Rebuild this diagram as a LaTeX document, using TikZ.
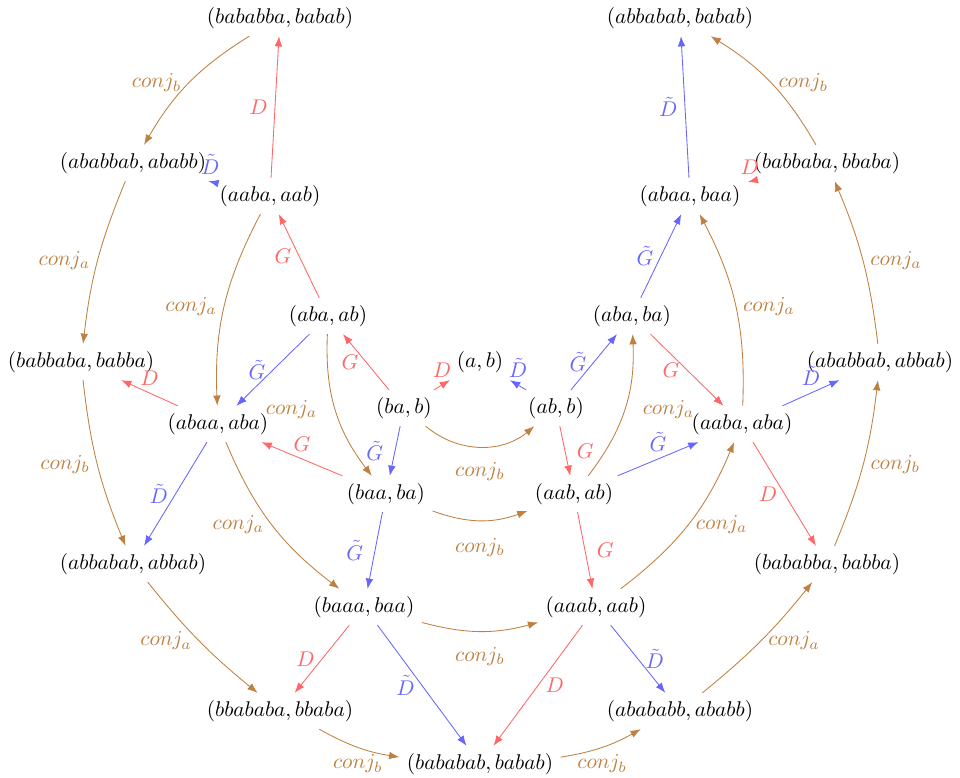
\documentclass[tikz,border=0pt]{standalone}
\usepackage{amsmath}
\usetikzlibrary{arrows.meta}

\tikzset{
  redarr/.style={-{Latex}, red!60},
  bluearr/.style={-{Latex}, blue!60},
  conjarr/.style={-{Latex}, brown},
}

\begin{document}
\begin{tikzpicture}[x=0.99cm,y=0.99cm]
  \useasboundingbox (-8,6.033) rectangle (8,-6.933);

  \node (ab)           at (0,0)           {$(a,b)$};
  \node (bab)          at (-1.267,-0.767) {$(ba,b)$};
  \node (abb)          at (1.267,-0.767)  {$(ab,b)$};
  \node (abaab)        at (-2.533,0.767)  {$(aba,ab)$};
  \node (ababa)        at (2.533,0.767)   {$(aba,ba)$};
  \node (baaba)        at (-1.567,-2.2)   {$(baa,ba)$};
  \node (aabab)        at (1.567,-2.2)    {$(aab,ab)$};
  \node (aabaaab)      at (-3.5,2.767)    {$(aaba,aab)$};
  \node (abaabaa)      at (3.5,2.767)     {$(abaa,baa)$};
  \node (abaaaba)      at (-4.367,-1.033) {$(abaa,aba)$};
  \node (aabaaba)      at (4.367,-1.033)  {$(aaba,aba)$};
  \node (baaabaa)      at (-1.933,-4.083) {$(baaa,baa)$};
  \node (aaabaab)      at (1.933,-4.083)  {$(aaab,aab)$};
  \node (bababbababab) at (-3.333,5.733)  {$(bababba,babab)$};
  \node (abbababbabab) at (3.333,5.733)   {$(abbabab,babab)$};
  \node (ababbabababb) at (-5.783,3.317)  {$(ababbab,ababb)$};
  \node (babbababbaba) at (5.783,3.317)   {$(babbaba,bbaba)$};
  \node (babbabababba) at (-6.65,0)       {$(babbaba,babba)$};
  \node (ababbababbab) at (6.667,0)       {$(ababbab,abbab)$};
  \node (abbabababbab) at (-5.783,-3.367) {$(abbabab,abbab)$};
  \node (bababbababba) at (5.783,-3.367)  {$(bababba,babba)$};
  \node (bbabababbaba) at (-3.333,-5.817) {$(bbababa,bbaba)$};
  \node (abababbababb) at (3.333,-5.817)  {$(abababb,ababb)$};
  \node (babababbabab) at (0,-6.7)        {$(bababab,babab)$};

  % G and D
  \draw[redarr] (bab) -- (ab) node[midway,above] {$D$};
  \draw[redarr] (bab) -- (abaab) node[midway,left] {$G$};
  \draw[redarr] (abaab) -- (aabaaab) node[midway,left] {$G$};
  \draw[redarr] (aabaaab) -- (bababbababab) node[midway,left] {$D$};
  \draw[redarr] (baaba) -- (abaaaba) node[midway,above] {$G$};
  \draw[redarr] (abaaaba) -- (babbabababba) node[midway,above] {$D$};
  \draw[redarr] (abb) -- (aabab) node[midway,right=2pt] {$G$};
  \draw[redarr] (aabab) -- (aaabaab) node[midway,right=2pt] {$G$};
  \draw[redarr] (ababa) -- (aabaaba) node[midway,left] {$G$};
  \draw[redarr] (aabaaba) -- (bababbababba) node[midway,left] {$D$};
  \draw[redarr] (babbababbaba) -- (abaabaa) node[midway,above] {$D$};
  \draw[redarr] (baaabaa) -- (bbabababbaba) node[midway,left] {$D$};
  \draw[redarr] (aaabaab) -- (babababbabab) node[midway,right] {$D$};

  % tilde G and tilde D
  \draw[bluearr] (abb) -- (ab) node[midway,above] {$\tilde{D}$};
  \draw[bluearr] (abb) -- (ababa) node[midway,left] {$\tilde{G}$};
  \draw[bluearr] (ababa) -- (abaabaa) node[midway,left] {$\tilde{G}$};
  \draw[bluearr] (abaabaa) -- (abbababbabab) node[midway,left] {$\tilde{D}$};
  \draw[bluearr] (aabab) -- (aabaaba) node[midway,above] {$\tilde{G}$};
  \draw[bluearr] (aabaaba) -- (ababbababbab) node[midway,above] {$\tilde{D}$};
  \draw[bluearr] (bab) -- (baaba) node[midway,left=2pt] {$\tilde{G}$};
  \draw[bluearr] (baaba) -- (baaabaa) node[midway,left=2pt] {$\tilde{G}$};
  \draw[bluearr] (abaab) -- (abaaaba) node[midway,left] {$\tilde{G}$};
  \draw[bluearr] (abaaaba) -- (abbabababbab) node[midway,left] {$\tilde{D}$};
  \draw[bluearr] (aabaaab) -- (ababbabababb) node[midway,above] {$\tilde{D}$};
  \draw[bluearr] (baaabaa) -- (babababbabab) node[midway,left] {$\tilde{D}$};
  \draw[bluearr] (aaabaab) -- (abababbababb) node[midway,right] {$\tilde{D}$};

  % conjugations
  \draw[conjarr] (bab) to[bend right=40] node[midway,below=4pt] {$conj_b$} (abb);
  \draw[conjarr] (baaba) to[bend right=20] node[midway,below=5pt] {$conj_b$} (aabab);
  \draw[conjarr] (baaabaa) to[bend right=15] node[midway,below=4pt] {$conj_b$} (aaabaab);
  \draw[conjarr] (abaab) to[bend right=20] node[midway,left=5pt] {$conj_a$} (baaba);
  \draw[conjarr] (aabab) to[bend right=20] node[midway,right=5pt] {$conj_a$} (ababa);
  \draw[conjarr] (aabaaab) to[bend right=15] node[midway,left] {$conj_a$} (abaaaba);
  \draw[conjarr] (aabaaba) to[bend right=15] node[midway,right] {$conj_a$} (abaabaa);
  \draw[conjarr] (abaaaba) to[bend right=15] node[midway,left] {$conj_a$} (baaabaa);
  \draw[conjarr] (aaabaab) to[bend right=15] node[midway,right] {$conj_a$} (aabaaba);
  \draw[conjarr] (bababbababab) to[bend right=14] node[midway,left] {$conj_b$} (ababbabababb);
  \draw[conjarr] (ababbabababb) to[bend right=8] node[midway,left] {$conj_a$} (babbabababba);
  \draw[conjarr] (babbabababba) to[bend right=8] node[midway,left] {$conj_b$} (abbabababbab);
  \draw[conjarr] (abbabababbab) to[bend right=6] node[midway,left] {$conj_a$} (bbabababbaba);
  \draw[conjarr] (bbabababbaba) to[bend right=10] node[midway,below] {$conj_b$} (babababbabab);
  \draw[conjarr] (babababbabab) to[bend right=10] node[midway,below] {$conj_b$} (abababbababb);
  \draw[conjarr] (abababbababb) to[bend right=6] node[midway,right] {$conj_a$} (bababbababba);
  \draw[conjarr] (bababbababba) to[bend right=8] node[midway,right] {$conj_b$} (ababbababbab);
  \draw[conjarr] (ababbababbab) to[bend right=8] node[midway,right] {$conj_a$} (babbababbaba);
  \draw[conjarr] (babbababbaba) to[bend right=14] node[midway,right] {$conj_b$} (abbababbabab);
\end{tikzpicture}
\end{document}
